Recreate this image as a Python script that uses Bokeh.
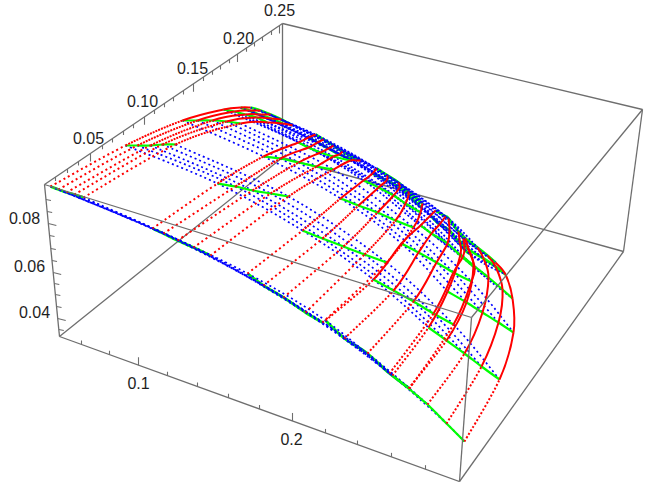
from bokeh.plotting import figure
from bokeh.models import Range1d, ColumnDataSource
from bokeh.core.properties import value
from bokeh.embed import file_html
from bokeh.resources import INLINE

# Surface readings in picture coordinates: group -> row -> five nodes (x, y)
GROUP_A = [
    [(50,186),(58,189),(66,192),(74,194),(83,197)],
    [(125,145),(137,145),(150,145),(162,144),(175,144)],
    [(182,120),(197,120),(212,120),(226,121),(240,123)],
    [(223,109),(234,111),(245,114),(256,117),(267,122)],
    [(240,107),(249,110),(258,114),(270,118),(282,123)],
    [(250,107),(260,110),(270,114),(281,119),(292,125)],
]
GROUP_B = [
    [(152,228),(163,233),(177,240),(193,247),(210,255)],
    [(217,183),(235,186),(252,190),(270,193),(288,196)],
    [(263,156),(280,158),(298,162),(316,166),(333,169)],
    [(298,142),(308,147),(320,152),(333,156),(350,160)],
    [(308,137),(317,142),(328,148),(339,154),(355,160)],
    [(315,134),(323,139),(333,145),(342,151),(360,160)],
]
GROUP_C = [
    [(247,273),(263,285),(283,297),(305,312),(322,322)],
    [(302,230),(322,238),(343,246),(364,254),(386,262)],
    [(340,198),(358,205),(377,212),(395,220),(413,227)],
    [(363,180),(378,187),(393,195),(405,203),(420,212)],
    [(372,173),(386,180),(399,187),(408,195),(421,207)],
    [(376,168),(387,175),(398,182),(408,191),(422,203)],
]
GROUP_D = [
    [(325,320),(344,338),(367,353),(389,373),(409,388)],
    [(373,279),(393,290),(413,301),(433,313),(453,324)],
    [(401,243),(418,252),(436,262),(453,272),(471,281)],
    [(420,225),(431,233),(447,243),(462,257),(474,267)],
    [(430,215),(439,224),(449,230),(464,249),(470,254)],
    [(435,210),(445,216),(448,218),(463,238),(465,240)],
]
GROUP_E = [
    [(392,375),(408,388),(427,404),(446,423),(464,441)],
    [(428,327),(446,340),(464,353),(481,366),(499,379)],
    [(447,291),(466,302),(482,312),(498,322),(513,332)],
    [(460,254),(473,265),(488,277),(502,289),(512,298)],
    [(459,240),(468,249),(483,258),(495,266),(505,274)],
    [(458,231),(465,238),(477,247),(487,255),(495,262)],
]
GROUPS = [GROUP_A, GROUP_B, GROUP_C, GROUP_D, GROUP_E]

# Box corners
TOP_FRONT_LEFT = (44, 184)
BOTTOM_FRONT_LEFT = (59, 336)
TOP_BACK_LEFT = (282, 23)
BOTTOM_BACK_LEFT = (282, 157)
TOP_FRONT_RIGHT = (471, 317)
BOTTOM_FRONT_RIGHT = (459, 481)
TOP_BACK_RIGHT = (642, 109)
BOTTOM_BACK_RIGHT = (623, 251)

# Ticks
X_TICK_XS = [81,109,138,167,197,228,259,292,325,357,391,425]
X_TICK_MAJOR = [138, 292]
Y_TICK_XS = [55,67,78,90,102,112,123,133,144,154,164,173,183,193,203,212,220,229,237,246,254,262,271,279]
Y_TICK_MAJOR = [90,144,193,237,279]
Z_TICK_YS = [199,211,223,235,248,260,272,283,294,306,318,329]
Z_TICK_MAJOR = [223,272,318]

LABELS = ["0.25","0.20","0.15","0.10","0.05","0.08","0.06","0.04","0.1","0.2"]
LABEL_X = [279,238,192,142,88,24,29,34,138,291]
LABEL_Y = [9,37,67,100,137,217,265,311,382,438]

p = figure(width=652, height=482, x_range=Range1d(0,652), y_range=Range1d(482,0),
           toolbar_location=None, output_backend="svg", min_border=0)
p.axis.visible = False
p.grid.visible = False
p.outline_line_color = None

GRAY = "#6e6e6e"
def edges(pairs, w=1.3):
    p.segment([a[0] for a,b in pairs],[a[1] for a,b in pairs],
              [b[0] for a,b in pairs],[b[1] for a,b in pairs],
              line_color=GRAY, line_width=w)

def add_curve(bucket, nodes, first=0, last=None):
    n = len(nodes)
    last = n-1 if last is None else last
    for i in range(first, last):
        a = nodes[max(i-1,0)]; b = nodes[i]; c = nodes[i+1]; d = nodes[min(i+2,n-1)]
        bucket["x0"].append(b[0]); bucket["y0"].append(b[1])
        bucket["x1"].append(c[0]); bucket["y1"].append(c[1])
        bucket["cx0"].append(b[0]+(c[0]-a[0])/6); bucket["cy0"].append(b[1]+(c[1]-a[1])/6)
        bucket["cx1"].append(c[0]-(d[0]-b[0])/6); bucket["cy1"].append(c[1]-(d[1]-b[1])/6)

def new_bucket():
    return {k: [] for k in ("x0","y0","x1","y1","cx0","cy0","cx1","cy1")}

def draw(bucket, color, width, dash):
    p.bezier("x0","y0","x1","y1","cx0","cy0","cx1","cy1", source=ColumnDataSource(bucket),
             line_color=color, line_width=width, line_dash=dash)

# back edges
edges([(TOP_BACK_LEFT,BOTTOM_BACK_LEFT),(BOTTOM_FRONT_LEFT,BOTTOM_BACK_LEFT),(BOTTOM_BACK_LEFT,BOTTOM_BACK_RIGHT)])

# green under the blue: the front row and the rows along the ridge
gu = new_bucket()
for gi, g in enumerate(GROUPS):
    for r in (0, 4, 5):
        if r == 0 and gi == 4:
            continue
        add_curve(gu, g[r])
draw(gu, "#00ff00", 2.8, "solid")

# blue
blue = {"2 3": new_bucket(), "2 2": new_bucket()}
for r in range(6):
    for k in range(5):
        nodes = [g[r][k] for g in GROUPS]
        add_curve(blue["2 2" if r in (3,4,5) else "2 3"], nodes)
for dash, b in blue.items():
    draw(b, "#0000ff", 1.7, dash)

# green over the blue
go = new_bucket()
for g in GROUPS:
    for r in (1, 2, 3):
        add_curve(go, g[r])
add_curve(go, GROUP_E[0])
draw(go, "#00ff00", 2.2, "solid")

# red
red = {"2 3": new_bucket(), "2 2": new_bucket(), "2 1": new_bucket(), "solid": new_bucket()}
for gi, g in enumerate(GROUPS):
    for k in range(5):
        nodes = [g[r][k] for r in range(6)]
        add_curve(red["2 3" if gi < 3 else "2 2"], nodes, 0, 1)
        add_curve(red["2 1" if gi < 3 else "solid"], nodes, 1, 2)
        add_curve(red["solid"], nodes, 2, 5)
for dash, b in red.items():
    draw(b, "#ff0000", 2.0, dash)

# front edges
edges([(TOP_FRONT_LEFT,TOP_FRONT_RIGHT),(TOP_FRONT_RIGHT,BOTTOM_FRONT_RIGHT),(TOP_FRONT_RIGHT,TOP_BACK_RIGHT),
       (TOP_FRONT_LEFT,TOP_BACK_LEFT),(TOP_FRONT_LEFT,BOTTOM_FRONT_LEFT),(BOTTOM_FRONT_LEFT,BOTTOM_FRONT_RIGHT),
       (BOTTOM_FRONT_RIGHT,BOTTOM_BACK_RIGHT),(TOP_BACK_RIGHT,BOTTOM_BACK_RIGHT),(TOP_BACK_LEFT,TOP_BACK_RIGHT)])

# ticks
tx0, ty0, tx1, ty1 = [], [], [], []
for x in X_TICK_XS:
    y = BOTTOM_FRONT_LEFT[1] + (x-BOTTOM_FRONT_LEFT[0])*(BOTTOM_FRONT_RIGHT[1]-BOTTOM_FRONT_LEFT[1])/(BOTTOM_FRONT_RIGHT[0]-BOTTOM_FRONT_LEFT[0])
    tx0.append(x); ty0.append(y); tx1.append(x); ty1.append(y-(8 if x in X_TICK_MAJOR else 4))
for x in Y_TICK_XS:
    y = TOP_FRONT_LEFT[1] + (x-TOP_FRONT_LEFT[0])*(TOP_BACK_LEFT[1]-TOP_FRONT_LEFT[1])/(TOP_BACK_LEFT[0]-TOP_FRONT_LEFT[0])
    tx0.append(x); ty0.append(y); tx1.append(x); ty1.append(y+(8 if x in Y_TICK_MAJOR else 4))
for y in Z_TICK_YS:
    x = TOP_FRONT_LEFT[0] + (y-TOP_FRONT_LEFT[1])*(BOTTOM_FRONT_LEFT[0]-TOP_FRONT_LEFT[0])/(BOTTOM_FRONT_LEFT[1]-TOP_FRONT_LEFT[1])
    major = y in Z_TICK_MAJOR
    tx0.append(x); ty0.append(y); tx1.append(x+(8 if major else 5)); ty1.append(y+(2 if major else 1))
p.segment(tx0, ty0, tx1, ty1, line_color=GRAY, line_width=1.1)

p.text(LABEL_X, LABEL_Y, text=LABELS, text_font=value("Liberation Sans"), text_font_size="16px",
       text_color="#1e1e1e", text_align="center", text_baseline="middle")

open("out.html","w").write(file_html(p, INLINE))
